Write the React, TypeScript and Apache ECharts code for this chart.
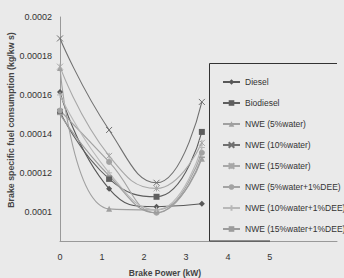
import React, { useEffect, useRef } from "react";
import * as echarts from "echarts";

const powers = [0, 1.17, 2.3, 3.38];
const seriesNames = [
  "Diesel",
  "Biodiesel",
  "NWE (5%water)",
  "NWE (10%water)",
  "NWE (15%water)",
  "NWE (5%water+1%DEE)",
  "NWE (10%water+1%DEE)",
  "NWE (15%water+1%DEE)",
];
const diesel = [0.0001615, 0.0001118, 0.0001026, 0.0001041];
const biodiesel = [0.0001513, 0.0001169, 0.0001077, 0.000141];
const nwe5 = [0.0001738, 0.0001015, 0.000101, 0.0001272];
const nwe10 = [0.000189, 0.000142, 0.0001149, 0.0001564];
const nwe15 = [0.0001745, 0.0001287, 0.000112, 0.0001354];
const nwe5dee = [0.000152, 0.0001256, 0.0000995, 0.0001303];
const nwe10dee = [0.00016, 0.00012, 0.000101, 0.000133];
const nwe15dee = [0.00015, 0.0001185, 0.0000995, 0.000128];
const yTicks = [0.0001, 0.00012, 0.00014, 0.00016, 0.00018, 0.0002];
const xTicks = [0, 1, 2, 3, 4, 5];

const FONT = "'Liberation Sans', Arial, sans-serif";

export default function App() {
  const ref = useRef<HTMLDivElement>(null);
  useEffect(() => {
    if (!ref.current) return;
    const chart = echarts.init(ref.current, undefined, { renderer: "svg" });
    const values = [diesel, biodiesel, nwe5, nwe10, nwe15, nwe5dee, nwe10dee, nwe15dee];
    const colors = ["#585858", "#5e5e5e", "#a0a0a0", "#707070", "#a8a8a8", "#a3a3a3", "#b8b8b8", "#9c9c9c"];
    const symbols: any[] = [
      "diamond",
      "rect",
      "triangle",
      "path://M0,0L10,10M10,0L0,10",
      "path://M0,0L10,10M10,0L0,10M5,0L5,10",
      "circle",
      "path://M5,0L5,10M0,5L10,5",
      "rect",
    ];
    const sizes: any[] = [6, 6, 6, 6, 6, 6, 6, [6, 1.5]];
    const series = values.map((vals, i) => {
      const stroked = i === 3 || i === 4 || i === 6;
      return {
        name: seriesNames[i],
        type: "line",
        smooth: 0.5,
        data: vals.map((v, j) => [powers[j], v]),
        symbol: symbols[i],
        symbolSize: sizes[i],
        showSymbol: true,
        lineStyle: { color: colors[i], width: 1.1 },
        itemStyle: stroked
          ? { color: "none", borderColor: colors[i], borderWidth: 1 }
          : { color: colors[i], borderWidth: 0 },
      };
    });
    chart.setOption({
      animation: false,
      backgroundColor: "#eaeaea",
      grid: { left: 60, right: 7, top: 17, bottom: 37 },
      xAxis: {
        type: "value",
        min: 0,
        max: 6.6,
        axisLine: { show: true, lineStyle: { color: "#999", width: 1 } },
        axisTick: { show: false },
        splitLine: { show: false },
        axisLabel: {
          customValues: xTicks,
          color: "#333",
          fontSize: 9,
          fontFamily: FONT,
          margin: 11,
          formatter: (v: number) => String(v),
        },
      },
      yAxis: {
        type: "value",
        min: 0.000085,
        max: 0.0002,
        axisLine: { show: true, lineStyle: { color: "#999", width: 1 } },
        axisTick: { show: false },
        splitLine: { show: false },
        axisLabel: {
          customValues: yTicks,
          color: "#333",
          fontSize: 9,
          fontFamily: FONT,
          margin: 8,
          formatter: (v: number) => String(Number(v.toPrecision(3))),
        },
      },
      legend: {
        orient: "vertical",
        left: 217,
        top: 71,
        itemWidth: 17,
        itemHeight: 7,
        itemGap: 9,
        textStyle: { color: "#333", fontSize: 8.5, fontFamily: FONT, lineHeight: 12 },
        data: seriesNames,
      },
      graphic: [
        {
          type: "polyline",
          shape: { points: [[337, 63.5], [209.5, 63.5], [209.5, 241], [270, 241]] },
          style: { stroke: "#333", lineWidth: 1, fill: "none" },
          z: 10,
        },
        {
          type: "text",
          x: 11,
          y: 120,
          rotation: Math.PI / 2,
          style: {
            text: "Brake specific fuel consumption (kg/kw s)",
            fontSize: 8.8,
            fontWeight: "bold",
            fontFamily: FONT,
            fill: "#444",
            align: "center",
            verticalAlign: "middle",
          },
        },
        {
          type: "text",
          x: 165,
          y: 273,
          style: {
            text: "Brake Power (kW)",
            fontSize: 8.5,
            fontWeight: "bold",
            fontFamily: FONT,
            fill: "#444",
            align: "center",
            verticalAlign: "middle",
          },
        },
      ],
      series,
    });
    return () => chart.dispose();
  }, []);
  return (
    <div
      ref={ref}
      style={{ position: "fixed", left: 0, top: 0, width: 344, height: 278 }}
    />
  );
}
